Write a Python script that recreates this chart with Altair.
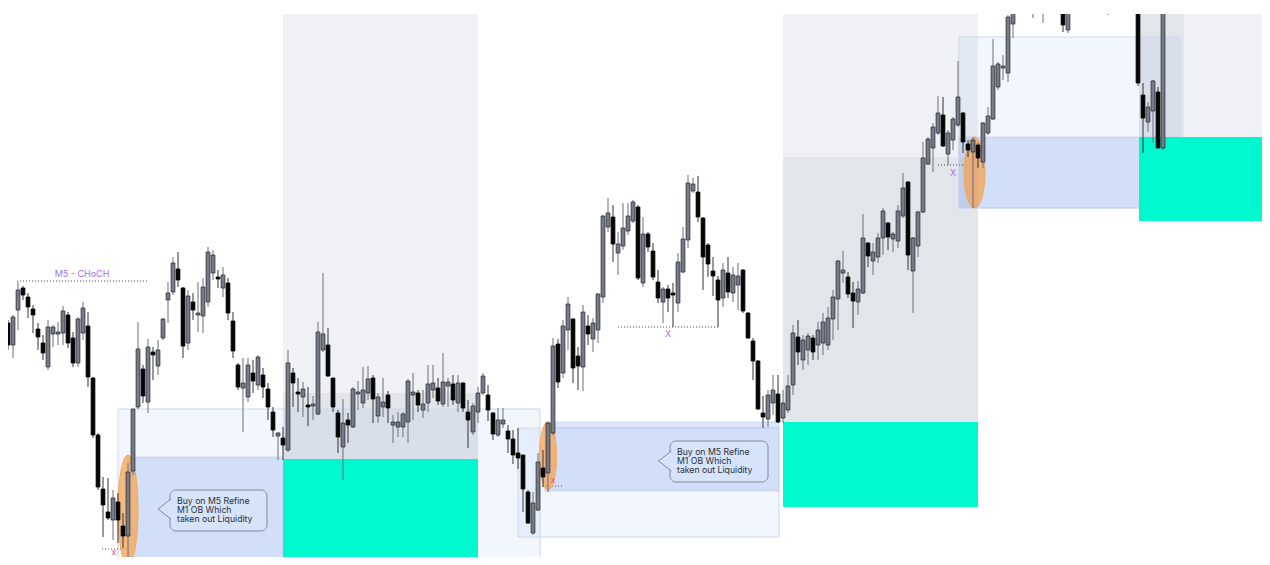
import altair as alt
import pandas as pd
import numpy as np

# ---------------- OHLC candles (price points) ----------------
opens = [
    242, 220, 255, 277, 268, 256, 236, 222, 198, 231,
    231, 232, 250, 227, 202, 232, 239, 187, 130, 76,
    53, 45, 63, 39, 29, 94, 158, 196, 163, 213,
    199, 227, 265, 273, 296, 277, 222, 263, 250, 249,
    263, 292, 288, 277, 282, 244, 200, 177, 168, 192,
    180, 190, 176, 153, 129, 127, 115, 192, 173, 168,
    160, 159, 151, 215, 220, 187, 152, 118, 145, 138,
    171, 162, 172, 187, 149, 158, 170, 140, 138, 138,
    143, 170, 172, 155, 162, 175, 177, 161, 179, 181,
    162, 182, 153, 133, 153, 172, 170, 152, 130, 141,
    134, 126, 112, 110, 73, 32, 55, 97, 92, 132,
    221, 192, 235, 246, 209, 198, 239, 226, 235, 268,
    338, 348, 312, 319, 334, 344, 358, 282, 331, 314,
    283, 263, 276, 272, 262, 293, 325, 374, 373, 347,
    320, 294, 285, 267, 292, 272, 280, 295, 252, 224,
    204, 152, 146, 162, 171, 147, 155, 180, 228, 205,
    215, 227, 220, 222, 220, 246, 266, 292, 288, 272,
    263, 272, 322, 304, 308, 327, 342, 326, 324, 349,
    383, 294, 319, 353, 401, 417, 432, 450, 411, 425,
    440, 452, 421, 413, 420, 403, 432, 446, 478, 497,
    492, 541, 565, 595, 570, 555, 590, 560, 575, 620,
    570, 575, 535, 565, 615, 580, 570, 605, 575, 610,
    555, 590, 570, 595, 570, 595, 585, 470, 443, 454,
    473, 417,
]
highs = [
    245, 250, 283, 279, 272, 260, 242, 230, 245, 240,
    243, 259, 253, 233, 248, 263, 253, 188, 132, 88,
    87, 75, 72, 52, 102, 156, 243, 200, 226, 218,
    225, 247, 283, 308, 313, 278, 275, 272, 283, 287,
    318, 315, 295, 298, 287, 253, 202, 207, 207, 205,
    210, 197, 182, 158, 133, 138, 215, 197, 187, 183,
    178, 169, 243, 292, 237, 187, 155, 166, 152, 178,
    184, 198, 199, 190, 172, 187, 174, 150, 153, 153,
    186, 192, 175, 175, 200, 200, 187, 212, 187, 190,
    190, 183, 165, 162, 178, 192, 180, 153, 157, 157,
    140, 135, 137, 110, 75, 73, 112, 115, 143, 227,
    226, 245, 268, 247, 218, 260, 250, 247, 272, 350,
    367, 360, 333, 362, 362, 365, 360, 348, 333, 322,
    295, 278, 280, 282, 312, 338, 390, 387, 389, 348,
    322, 308, 289, 302, 308, 298, 302, 296, 253, 227,
    205, 169, 175, 190, 190, 175, 190, 240, 245, 230,
    232, 230, 243, 252, 258, 275, 305, 314, 293, 283,
    284, 351, 323, 322, 332, 357, 343, 333, 360, 392,
    384, 328, 354, 423, 428, 442, 469, 468, 435, 448,
    504, 453, 425, 428, 422, 443, 458, 526, 503, 510,
    550, 575, 615, 610, 625, 600, 605, 610, 625, 630,
    620, 585, 590, 615, 625, 630, 625, 620, 625, 620,
    605, 600, 615, 605, 610, 605, 595, 482, 463, 485,
    478, 595,
]
lows = [
    215, 207, 235, 265, 247, 232, 215, 205, 195, 218,
    220, 220, 217, 198, 198, 225, 178, 127, 75, 28,
    45, 25, 22, 17, 2, 90, 156, 162, 152, 185,
    190, 225, 242, 270, 278, 207, 215, 245, 233, 232,
    258, 285, 277, 268, 245, 207, 175, 133, 163, 172,
    175, 167, 145, 128, 105, 105, 113, 158, 153, 148,
    139, 145, 150, 213, 188, 153, 112, 85, 122, 137,
    155, 157, 165, 142, 142, 148, 142, 122, 128, 128,
    122, 145, 153, 147, 153, 167, 160, 158, 158, 160,
    153, 153, 117, 130, 142, 170, 144, 125, 128, 137,
    112, 101, 96, 53, 41, 30, 54, 78, 73, 130,
    177, 187, 215, 182, 175, 174, 220, 213, 222, 262,
    333, 303, 290, 315, 330, 342, 285, 278, 313, 285,
    262, 242, 253, 238, 253, 292, 317, 372, 343, 275,
    288, 269, 238, 258, 267, 263, 255, 252, 226, 185,
    155, 137, 138, 150, 142, 142, 152, 170, 200, 195,
    200, 205, 205, 210, 215, 225, 235, 282, 267, 237,
    250, 271, 298, 290, 302, 310, 315, 313, 317, 347,
    295, 252, 308, 352, 400, 393, 430, 418, 400, 415,
    438, 412, 408, 357, 397, 397, 430, 445, 475, 485,
    483, 527, 555, 555, 557, 547, 557, 542, 565, 560,
    555, 533, 532, 555, 560, 565, 557, 557, 560, 555,
    550, 555, 560, 557, 560, 560, 479, 412, 433, 422,
    417, 415,
]
closes = [
    220, 248, 275, 270, 258, 250, 228, 212, 238, 238,
    233, 254, 222, 202, 246, 257, 188, 130, 78, 60,
    47, 67, 45, 29, 93, 156, 216, 169, 218, 210,
    215, 246, 272, 302, 285, 219, 269, 255, 252, 278,
    313, 310, 286, 290, 252, 214, 178, 182, 200, 184,
    208, 178, 158, 135, 132, 120, 202, 182, 171, 176,
    158, 161, 233, 231, 189, 158, 128, 142, 140, 176,
    173, 175, 186, 166, 168, 163, 157, 143, 143, 151,
    184, 173, 160, 161, 181, 182, 164, 183, 183, 165,
    182, 157, 145, 159, 172, 189, 155, 131, 145, 145,
    126, 110, 107, 76, 42, 62, 103, 88, 142, 219,
    183, 239, 261, 197, 199, 253, 231, 242, 271, 349,
    352, 321, 321, 337, 349, 363, 287, 331, 318, 288,
    267, 276, 267, 270, 303, 326, 382, 381, 348, 308,
    301, 289, 265, 295, 273, 290, 289, 254, 227, 204,
    156, 148, 170, 175, 143, 162, 179, 232, 213, 225,
    229, 213, 235, 243, 247, 268, 304, 295, 271, 264,
    276, 327, 309, 313, 327, 354, 328, 331, 354, 377,
    310, 327, 353, 407, 426, 438, 452, 419, 432, 446,
    468, 423, 415, 425, 407, 442, 449, 499, 501, 499,
    548, 570, 605, 560, 610, 585, 563, 595, 615, 580,
    605, 540, 580, 605, 575, 620, 610, 565, 615, 560,
    595, 560, 605, 565, 600, 570, 482, 447, 458, 484,
    417, 585,
]

# ---------------- zones (bar index range, price range) ----------------
gray_x1 = [55, 155, 226.2]
gray_x2 = [94, 194, 252.4]
gray_top = [560, 560, 560]
gray_bot = [172, 408, 428]

dgray_x1 = [55, 155, 226.2]
dgray_x2 = [94, 194, 235.2]
dgray_top = [172, 408, 560]
dgray_bot = [106, 143, 428]

lblue_x1 = [22, 102, 190.2]
lblue_x2 = [106.4, 154.2, 234.4]
lblue_top = [156, 137, 528]
lblue_bot = [0, 28, 357]

blue_x1 = [24, 107.4, 190.2]
blue_x2 = [55, 154.2, 234.4]
blue_top = [108, 143, 428]
blue_bot = [0, 74, 357]

cyan_x1 = [55, 155, 226.2]
cyan_x2 = [94, 194, 252.4]
cyan_top = [106, 143, 428]
cyan_bot = [0, 58, 344]

# dotted liquidity / structure levels
lvl_x1 = [1.8, 18.8, 107, 122, 186]
lvl_x2 = [28.2, 24, 111, 142.2, 192]
lvl_p = [284, 16, 79, 238, 400]

# marker labels
mk_text = ["M5 - CHoCH", "x", "x", "X", "X"]
mk_x = [14.8, 21.2, 109, 132, 189]
mk_p = [291, 13, 85, 231, 392]
mk_color = ["#a66ff0", "#f0507a", "#f0507a", "#a66ff0", "#a66ff0"]

# highlighted ellipses (center bar, center price, width px, height px)
el_x = [24, 108, 193.3]
el_p = [55, 109, 392.5]
el_w = [20, 17, 21]
el_h = [110, 68, 71]

# callouts
co_x1 = [32.4, 132.4]
co_x2 = [51.8, 152]
co_top = [75, 124]
co_bot = [34, 83]
co_tip_x = [31.3, 131.4]
co_tip_p = [56, 104]
co_text_x = [33.8, 133.8]
co_lines = ["Buy on M5 Refine", "M1 OB Which", "taken out Liquidity"]
co_line_p = [[64, 55, 46], [113, 104, 95]]

# ---------------- build ----------------
XS = alt.Scale(domain=[0, 250.8], nice=False, zero=False)
YS = alt.Scale(domain=[8, 551], nice=False, zero=False)


def X(f):
    return alt.X(f, type="quantitative", scale=XS, axis=None)


def Y(f):
    return alt.Y(f, type="quantitative", scale=YS, axis=None)


n = len(opens)
df = pd.DataFrame({"i": list(range(n)), "open": opens, "high": highs, "low": lows, "close": closes})
bull = df["close"] >= df["open"]
df["lo"] = df[["open", "close"]].min(axis=1)
df["hi"] = df[["open", "close"]].max(axis=1)
df["left"] = df["i"] - 0.38
df["right"] = df["i"] + 0.38
df["fill"] = np.where(bull, "#767b88", "#050505")
df["edge"] = np.where(bull, "#2c2f36", "#000000")
df["wick"] = np.where(bull, "#6a6e78", "#333333")


def zone(x1, x2, top, bot, **mk):
    d = pd.DataFrame({"x1": x1, "x2": x2, "top": top, "bot": bot})
    return alt.Chart(d).mark_rect(clip=True, **mk).encode(
        x=X("x1"), x2="x2", y=Y("bot"), y2="top"
    )


layers = [
    zone(gray_x1, gray_x2, gray_top, gray_bot, fill="#eff1f4"),
    zone(dgray_x1, dgray_x2, dgray_top, dgray_bot, fill="#e2e5ea"),
    zone(lblue_x1, lblue_x2, lblue_top, lblue_bot, fill="#7fa4ec", fillOpacity=0.10,
         stroke="#ccd8ee", strokeWidth=1),
    zone(blue_x1, blue_x2, blue_top, blue_bot, fill="#7fa4ec", fillOpacity=0.27,
         stroke="#cdcfea", strokeWidth=1, strokeOpacity=0.8),
    zone(cyan_x1, cyan_x2, cyan_top, cyan_bot, fill="#00f8cf"),
]

lv = pd.DataFrame({"x1": lvl_x1, "x2": lvl_x2, "p": lvl_p})
layers.append(
    alt.Chart(lv).mark_rule(strokeDash=[1, 2], color="#4a4a4a", strokeWidth=1).encode(
        x=X("x1"), x2="x2", y=Y("p")
    )
)

for cx, cp, w, h in zip(el_x, el_p, el_w, el_h):
    rx = w / h
    path = f"M0,-1A{rx:.3f},1,0,1,1,0,1A{rx:.3f},1,0,1,1,0,-1Z"
    layers.append(
        alt.Chart(pd.DataFrame({"x": [cx], "p": [cp]})).mark_point(
            shape=path, size=h * h, filled=True, fill="#f7a04a", fillOpacity=0.7,
            stroke="#f5a858", strokeWidth=1, opacity=1
        ).encode(x=X("x"), y=Y("p"))
    )

layers.append(
    alt.Chart(df).mark_rule(strokeWidth=1, clip=True).encode(
        x=X("i"), y=Y("low"), y2="high", color=alt.Color("wick:N", scale=None)
    )
)
layers.append(
    alt.Chart(df).mark_rect(strokeWidth=0.8, clip=True).encode(
        x=X("left"), x2="right", y=Y("lo"), y2="hi",
        fill=alt.Fill("fill:N", scale=None), stroke=alt.Stroke("edge:N", scale=None)
    )
)

co = pd.DataFrame({"x1": co_x1, "x2": co_x2, "top": co_top, "bot": co_bot})
layers.append(
    alt.Chart(co).mark_rect(cornerRadius=6, fill="#d6e4f9", stroke="#7d8ba2", strokeWidth=1).encode(
        x=X("x1"), x2="x2", y=Y("bot"), y2="top"
    )
)
tip = pd.DataFrame({"x": co_tip_x, "p": co_tip_p})
layers.append(
    alt.Chart(tip).mark_point(
        shape="M0.65,-1L-0.65,0L0.65,1", size=400, filled=True, fill="#d6e4f9", opacity=1,
        stroke="#7d8ba2", strokeWidth=1
    ).encode(x=X("x"), y=Y("p"))
)
rows = []
for k in range(len(co_text_x)):
    for t, p in zip(co_lines, co_line_p[k]):
        rows.append({"x": co_text_x[k], "p": p, "t": t})
layers.append(
    alt.Chart(pd.DataFrame(rows)).mark_text(
        align="left", baseline="middle", font="Inter", fontSize=8.7, color="#2b2f3a"
    ).encode(x=X("x"), y=Y("p"), text="t:N")
)

mk = pd.DataFrame({"x": mk_x, "p": mk_p, "t": mk_text, "c": mk_color})
layers.append(
    alt.Chart(mk).mark_text(align="center", baseline="middle", font="Inter", fontSize=9).encode(
        x=X("x"), y=Y("p"), text="t:N", color=alt.Color("c:N", scale=None)
    )
)

chart = alt.layer(*layers).properties(
    width=1254, height=543,
    padding={"top": 6, "left": 0, "right": 0, "bottom": 0},
    autosize="none", background="white",
).configure_view(stroke=None)

chart.save("out.html", embed_options={"renderer": "svg", "actions": False})
